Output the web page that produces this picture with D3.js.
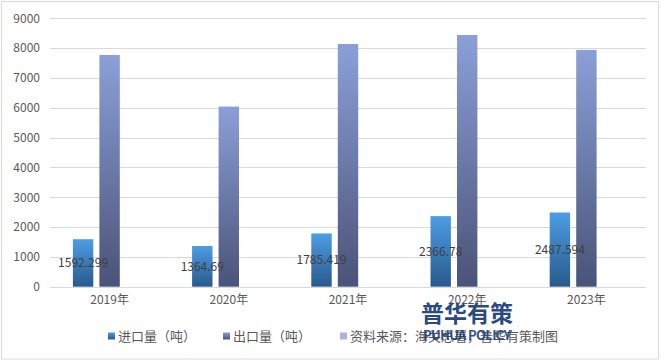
<!DOCTYPE html>
<html>
<head>
<meta charset="utf-8">
<script src="https://cdn.jsdelivr.net/npm/d3@7"></script>
<style>
  body { margin: 0; background: #fff; }
  text { font-family: "Noto Sans CJK SC", "Noto Sans", sans-serif; }
</style>
</head>
<body>
<div id="chart"></div>
<script>
// ---------- DATA ----------
const years = ["2019年", "2020年", "2021年", "2022年", "2023年"];
const importVals = [1592.299, 1364.69, 1785.419, 2366.78, 2487.594];
const exportVals = [7770, 6040, 8140, 8440, 7940];
const seriesNames = ["进口量（吨）", "出口量（吨）", "资料来源：海关总署，普华有策制图"];
const yTicks = [0, 1000, 2000, 3000, 4000, 5000, 6000, 7000, 8000, 9000];

const width = 664, height = 361;
const svg = d3.select("#chart").append("svg")
  .attr("width", width).attr("height", height);

const defs = svg.append("defs");
function grad(id, top, bottom) {
  const g = defs.append("linearGradient").attr("id", id)
    .attr("x1", 0).attr("y1", 0).attr("x2", 0).attr("y2", 1);
  g.append("stop").attr("offset", "0%").attr("stop-color", top);
  g.append("stop").attr("offset", "100%").attr("stop-color", bottom);
}
grad("gImp", "#4d9de4", "#285a8c");
grad("gExp", "#8b9fd8", "#4a5378");
const fills = ["url(#gImp)", "url(#gExp)", "#a9b5d9"];

// outer border
svg.append("rect")
  .attr("x", 1.5).attr("y", 1.5)
  .attr("width", 657).attr("height", 357.5)
  .attr("fill", "none").attr("stroke", "#d9d9d9");

// scales
const x = d3.scaleBand().domain(years).range([50, 646]);
const bw = x.bandwidth();
const step = 26.5;
const xs = d3.scaleBand().domain(seriesNames)
  .range([bw / 2 - 1.5 * step, bw / 2 + 1.5 * step])
  .paddingInner(0.23).paddingOuter(0.115);
const y = d3.scaleLinear().domain([0, 9000]).range([286.7, 18.3]);

// grid
svg.append("g").selectAll("line").data(yTicks).enter().append("line")
  .attr("x1", 50).attr("x2", 646)
  .attr("y1", d => Math.round(y(d)) + 0.5).attr("y2", d => Math.round(y(d)) + 0.5)
  .attr("stroke", "#d9d9d9").attr("stroke-width", 1);

// y axis labels
const yAxis = svg.append("g").attr("transform", "translate(40,0)")
  .call(d3.axisLeft(y).tickValues(yTicks).tickFormat(d3.format("d")).tickSize(0).tickPadding(0));
yAxis.select(".domain").remove();
yAxis.selectAll("text").attr("fill", "#595959").attr("font-size", 12)
  .style("font-family", "'Noto Sans CJK SC', sans-serif");

// x axis labels
const xAxis = svg.append("g").attr("transform", "translate(0,294)")
  .call(d3.axisBottom(x).tickSize(0).tickPadding(0));
xAxis.select(".domain").remove();
xAxis.selectAll("text").attr("fill", "#595959").attr("font-size", 12)
  .attr("dy", "0.8em")
  .style("font-family", "'Noto Sans CJK SC', sans-serif");

// bars
const groups = svg.append("g").selectAll("g").data(years).enter().append("g")
  .attr("transform", d => `translate(${x(d)},0)`);

groups.append("rect")
  .attr("x", xs(seriesNames[0]))
  .attr("width", xs.bandwidth())
  .attr("y", (d, i) => y(importVals[i]))
  .attr("height", (d, i) => y(0) - y(importVals[i]))
  .attr("fill", fills[0]);

groups.append("rect")
  .attr("x", xs(seriesNames[1]))
  .attr("width", xs.bandwidth())
  .attr("y", (d, i) => y(exportVals[i]))
  .attr("height", (d, i) => y(0) - y(exportVals[i]))
  .attr("fill", fills[1]);

// import data labels, centred in the bar
groups.append("text")
  .attr("x", xs(seriesNames[0]) + xs.bandwidth() / 2)
  .attr("y", (d, i) => (y(importVals[i]) + y(0)) / 2)
  .attr("dy", "0.35em")
  .attr("text-anchor", "middle")
  .attr("font-size", 12)
  .attr("fill", "#404040")
  .text((d, i) => importVals[i]);

// legend
const legendX = [108, 223, 340];
const legend = svg.append("g").selectAll("g").data(seriesNames).enter().append("g")
  .attr("transform", (d, i) => `translate(${legendX[i]},336)`);
legend.append("rect")
  .attr("x", 0).attr("y", -3.5).attr("width", 7).attr("height", 7)
  .attr("fill", (d, i) => fills[i]);
legend.append("text")
  .attr("x", 10).attr("dy", "0.35em")
  .attr("font-size", 13).attr("fill", "#595959")
  .text(d => d);

// watermark
const wm = svg.append("g").attr("transform", "translate(467,0)");
wm.append("text").attr("y", 322).attr("text-anchor", "middle")
  .attr("font-size", 23).attr("font-weight", "bold").attr("fill", "#1f3f7c")
  .attr("opacity", 0.95).text("普华有策");
wm.append("text").attr("y", 340).attr("text-anchor", "middle")
  .attr("font-size", 13).attr("font-weight", "bold").attr("fill", "#1f3f7c")
  .attr("textLength", 88).attr("opacity", 0.9).text("PUHUA POLICY");
</script>
</body>
</html>
